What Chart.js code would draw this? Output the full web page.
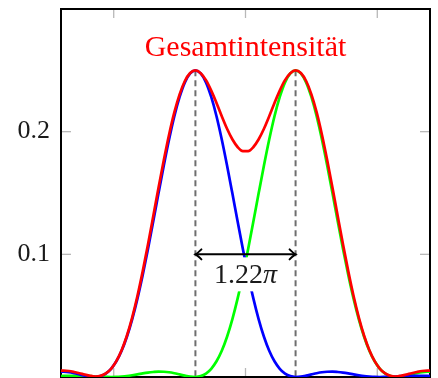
<!DOCTYPE html>
<html><head><meta charset="utf-8">
<script src="https://cdn.jsdelivr.net/npm/chart.js@4.4.1/dist/chart.umd.min.js"></script>
<style>html,body{margin:0;padding:0;background:#fff;}canvas{display:block;}</style>
</head><body>
<canvas id="c" width="438" height="378"></canvas>
<script>
// sample positions (x)
const xs = [-7.1,-6.9,-6.7,-6.5,-6.3,-6.1,-5.9,-5.7,-5.5,-5.3,-5.1,-4.9,-4.7,-4.5,-4.3,-4.1,-3.9,-3.7,-3.5,-3.3,-3.1,-2.9,-2.7,-2.5,-2.3,-2.1,-1.9,-1.7,-1.5,-1.3,-1.1,-0.9,-0.7,-0.5,-0.3,-0.1,
  0.1,0.3,0.5,0.7,0.9,1.1,1.3,1.5,1.7,1.9,2.1,2.3,2.5,2.7,2.9,3.1,3.3,3.5,3.7,3.9,4.1,4.3,4.5,4.7,4.9,5.1,5.3,5.5,5.7,5.9,6.1,6.3,6.5,6.7,6.9,7.1];
// left source intensity (blue)
const blueIntensity = [0.0044,0.0043,0.0039,0.0031,0.0021,0.0011,0.0003,0.0000,0.0007,0.0028,
  0.0067,0.0128,0.0214,0.0328,0.0470,0.0639,0.0832,0.1044,0.1269,0.1499,
  0.1724,0.1936,0.2126,0.2283,0.2402,0.2475,0.2500,0.2475,0.2402,0.2283,
  0.2126,0.1936,0.1724,0.1499,0.1269,0.1044,0.0832,0.0639,0.0470,0.0328,
  0.0214,0.0128,0.0067,0.0028,0.0007,0.0000,0.0003,0.0011,0.0021,0.0031,
  0.0039,0.0043,0.0044,0.0041,0.0036,0.0029,0.0021,0.0014,0.0008,0.0004,
  0.0001,0.0000,0.0001,0.0002,0.0004,0.0007,0.0009,0.0010,0.0010,0.0010,
  0.0009,0.0007];
// right source intensity (green)
const greenIntensity = [0.0007,0.0009,0.0010,0.0010,0.0010,0.0009,0.0007,0.0004,0.0002,0.0001,
  0.0000,0.0001,0.0004,0.0008,0.0014,0.0021,0.0029,0.0036,0.0041,0.0044,
  0.0043,0.0039,0.0031,0.0021,0.0011,0.0003,0.0000,0.0007,0.0028,0.0067,
  0.0128,0.0214,0.0328,0.0470,0.0639,0.0832,0.1044,0.1269,0.1499,0.1724,
  0.1936,0.2126,0.2283,0.2402,0.2475,0.2500,0.2475,0.2402,0.2283,0.2126,
  0.1936,0.1724,0.1499,0.1269,0.1044,0.0832,0.0639,0.0470,0.0328,0.0214,
  0.0128,0.0067,0.0028,0.0007,0.0000,0.0003,0.0011,0.0021,0.0031,0.0039,
  0.0043,0.0044];
// total intensity (red)
const totalIntensity = [0.0051,0.0052,0.0049,0.0041,0.0031,0.0020,0.0010,0.0004,0.0009,0.0029,
  0.0067,0.0129,0.0218,0.0336,0.0484,0.0660,0.0861,0.1080,0.1310,0.1543,
  0.1767,0.1975,0.2157,0.2304,0.2413,0.2478,0.2500,0.2477,0.2420,0.2335,
  0.2234,0.2126,0.2024,0.1938,0.1875,0.1842,0.1842,0.1875,0.1938,0.2024,
  0.2126,0.2234,0.2335,0.2420,0.2477,0.2500,0.2478,0.2413,0.2304,0.2157,
  0.1975,0.1767,0.1543,0.1310,0.1080,0.0861,0.0660,0.0484,0.0336,0.0218,
  0.0129,0.0067,0.0029,0.0009,0.0004,0.0010,0.0020,0.0031,0.0041,0.0049,
  0.0052,0.0051];
const xTicks = [-5, 0, 5];
const yTicks = [0.1, 0.2];
const peakPositions = [-1.9, 1.9];
const peakValue = 0.25;
const arrowLevel = 0.1;
const separationText = '1.22';
const separationSymbol = 'π';
const titleText = 'Gesamtintensität';

const SERIF = '"Liberation Serif", "DejaVu Serif", serif';
const pts = arr => xs.map((x, i) => ({x, y: arr[i]}));

function seg(ctx, x1, y1, x2, y2) { ctx.beginPath(); ctx.moveTo(x1, y1); ctx.lineTo(x2, y2); ctx.stroke(); }

const deco = {
  id: 'deco',
  beforeDatasetsDraw(chart) {
    const {ctx, chartArea: a, scales: {x, y}} = chart;
    ctx.save();
    ctx.strokeStyle = '#000'; ctx.lineWidth = 2;
    ctx.strokeRect(a.left, a.top, a.right - a.left, a.bottom - a.top);
    ctx.strokeStyle = '#b8b8b8'; ctx.lineWidth = 1.3;
    xTicks.forEach(v => {
      const px = x.getPixelForValue(v);
      seg(ctx, px, a.top + 1, px, a.top + 9);
      seg(ctx, px, a.bottom - 1, px, a.bottom - 9);
    });
    yTicks.forEach(v => {
      const py = y.getPixelForValue(v);
      seg(ctx, a.left + 1, py, a.left + 10, py);
      seg(ctx, a.right - 1, py, a.right - 10, py);
    });
    ctx.setLineDash([6, 4]);
    ctx.strokeStyle = '#6e6e6e'; ctx.lineWidth = 2;
    peakPositions.forEach(p => {
      const px = x.getPixelForValue(p);
      seg(ctx, px, y.getPixelForValue(peakValue), px, y.getPixelForValue(0));
    });
    ctx.restore();
  },
  afterDatasetsDraw(chart) {
    const {ctx, chartArea: a, scales: {x, y}} = chart;
    ctx.save();
    const x1 = x.getPixelForValue(peakPositions[0]);
    const x2 = x.getPixelForValue(peakPositions[1]);
    const ya = y.getPixelForValue(arrowLevel);
    const xc = x.getPixelForValue(0);
    // label background
    ctx.fillStyle = '#fff';
    ctx.fillRect(xc - 37, ya + 3, 74, 34);
    // arrow
    ctx.strokeStyle = '#000'; ctx.lineWidth = 2; ctx.lineCap = 'round';
    seg(ctx, x1 + 1, ya, x2 - 1, ya);
    const head = (tx, dir) => {
      ctx.beginPath();
      ctx.moveTo(tx + dir * 6, ya - 5);
      ctx.quadraticCurveTo(tx + dir * 2, ya - 1, tx, ya);
      ctx.quadraticCurveTo(tx + dir * 2, ya + 1, tx + dir * 6, ya + 5);
      ctx.stroke();
    };
    head(x1, 1); head(x2, -1);
    // label
    ctx.fillStyle = '#1a1a1a';
    ctx.textBaseline = 'alphabetic';
    ctx.textAlign = 'left';
    ctx.font = '28px ' + SERIF;
    const w1 = ctx.measureText(separationText).width;
    ctx.font = 'italic 28px ' + SERIF;
    const w2 = ctx.measureText(separationSymbol).width;
    const sx = xc - (w1 + w2) / 2;
    ctx.font = '28px ' + SERIF;
    ctx.fillText(separationText, sx, ya + 29);
    ctx.font = 'italic 28px ' + SERIF;
    ctx.fillText(separationSymbol, sx + w1, ya + 29);
    // title
    ctx.fillStyle = '#ff0000';
    ctx.textAlign = 'center';
    ctx.font = '30px ' + SERIF;
    ctx.fillText(titleText, xc, a.top + 47);
    ctx.restore();
  }
};

const lineDs = (label, data, color) => ({
  label, data: pts(data), borderColor: color, backgroundColor: color,
  borderWidth: 2.7, pointRadius: 0, fill: false, cubicInterpolationMode: 'monotone'
});

new Chart(document.getElementById('c'), {
  type: 'line',
  data: {
    datasets: [
      lineDs('Gesamtintensität', totalIntensity, '#ff0000'),
      lineDs('Quelle 1', blueIntensity, '#0000ff'),
      lineDs('Quelle 2', greenIntensity, '#00ff00')
    ]
  },
  options: {
    responsive: false,
    animation: false,
    events: [],
    layout: {padding: {left: 0, top: 9, right: 8, bottom: 1}},
    plugins: {legend: {display: false}, tooltip: {enabled: false}, title: {display: false}},
    scales: {
      x: {
        type: 'linear', min: -7, max: 7, display: false,
        afterFit(s) { s.height = 0; s.paddingLeft = 0; s.paddingRight = 0; s.paddingTop = 0; s.paddingBottom = 0; }
      },
      y: {
        type: 'linear', position: 'left', min: 0, max: 0.3,
        grid: {display: false, drawTicks: false},
        border: {display: false},
        afterBuildTicks(s) { s.ticks = yTicks.map(v => ({value: v})); },
        ticks: {
          padding: 11, color: '#1a1a1a',
          font: {family: SERIF, size: 26},
          callback: v => v.toFixed(1)
        },
        afterFit(s) { s.width = 61; s.paddingTop = 0; s.paddingBottom = 0; s.paddingLeft = 0; s.paddingRight = 0; }
      }
    }
  },
  plugins: [deco]
});
</script>
</body></html>
